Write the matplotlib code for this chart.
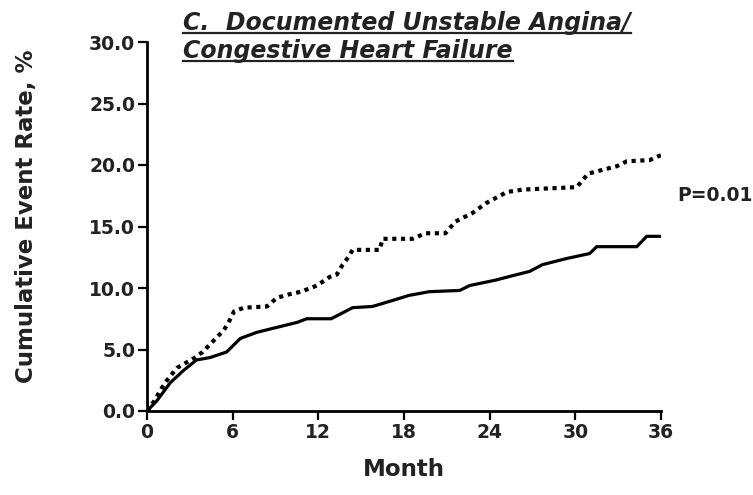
import matplotlib
matplotlib.use("Agg")
import matplotlib.pyplot as plt
from matplotlib.lines import Line2D

# ---- data ----
months_dashed = [0, 0.5, 1.0, 1.4, 2.1, 2.7, 3.3, 3.9, 4.4, 4.9, 5.4, 5.8, 6.1, 6.8,
                 8.4, 9.1, 10.0, 10.8, 11.9, 12.8, 13.3, 13.7, 14.1, 14.4, 16.3, 16.5,
                 18.6, 19.5, 20.9, 21.6, 22.8, 23.75, 25.2, 26.3, 30.1, 30.9, 32.9,
                 33.6, 35.2, 36.0]
rate_dashed = [0, 0.8, 1.8, 2.5, 3.5, 3.9, 4.3, 4.8, 5.4, 6.0, 6.6, 7.4, 8.1, 8.4,
               8.5, 9.2, 9.5, 9.7, 10.2, 10.9, 11.1, 11.9, 12.5, 13.1, 13.1, 14.0,
               14.0, 14.45, 14.45, 15.4, 16.1, 16.9, 17.8, 18.0, 18.2, 19.3, 19.9,
               20.3, 20.4, 20.8]

months_solid = [0, 0.67, 1.63, 2.56, 3.47, 4.43, 5.58, 6.54, 7.7, 9.1, 10.5, 11.2,
                12.9, 14.4, 15.8, 16.95, 18.36, 19.77, 21.9, 22.6, 24.45, 25.6, 26.8,
                27.7, 29.4, 31.0, 31.5, 34.3, 35.0, 36.0]
rate_solid = [0, 0.8, 2.3, 3.3, 4.15, 4.35, 4.8, 5.9, 6.4, 6.8, 7.2, 7.5,
              7.5, 8.4, 8.5, 8.9, 9.4, 9.7, 9.8, 10.2, 10.65, 11.0, 11.35,
              11.9, 12.4, 12.8, 13.36, 13.36, 14.2, 14.2]

x_ticks = [0, 6, 12, 18, 24, 30, 36]
y_ticks = [0, 5, 10, 15, 20, 25, 30]
title_lines = ["C.  Documented Unstable Angina/", "Congestive Heart Failure"]
p_text = "P=0.01"

W, H = 753, 495
INK = "#222222"
fig = plt.figure(figsize=(W / 100, H / 100), dpi=100)
ax = fig.add_axes([147 / W, 1 - 411 / H, (661 - 147) / W, (411 - 42) / H])

ax.plot(months_solid, rate_solid, color="black", lw=2.3, solid_joinstyle="miter")
ax.plot(months_dashed, rate_dashed, color="black", lw=3.0,
        linestyle=(0, (1.0, 1.1)), dash_capstyle="butt")

ax.set_xlim(0, 36)
ax.set_ylim(0, 30)
ax.set_xticks(x_ticks)
ax.set_xticklabels([str(t) for t in x_ticks])
ax.set_yticks(y_ticks)
ax.set_yticklabels([f"{t:.1f}" for t in y_ticks])

for s in ["top", "right"]:
    ax.spines[s].set_visible(False)
for s in ["left", "bottom"]:
    ax.spines[s].set_linewidth(2.0)
ax.tick_params(axis="both", direction="out", length=6.5, width=1.6,
               labelsize=13.5, pad=2)
for lab in ax.get_xticklabels() + ax.get_yticklabels():
    lab.set_fontweight("bold")
    lab.set_color(INK)

ax.set_xlabel("Month", fontsize=16.5, fontweight="bold", labelpad=12, color=INK)
ax.set_ylabel("Cumulative Event Rate, %", fontsize=16.5, fontweight="bold", color=INK)
ax.yaxis.set_label_coords(-0.212, 0.528)

ax.text(1.031, 0.585, p_text, transform=ax.transAxes, fontsize=13.5,
        fontweight="bold", color=INK, va="center", ha="left")

# title lines, underlined
baselines = [30, 58]
texts = []
for line, b in zip(title_lines, baselines):
    t = fig.text(183 / W, 1 - b / H, line, fontsize=17, fontweight="bold",
                 fontstyle="italic", va="baseline", ha="left", color=INK)
    texts.append((t, b))

fig.canvas.draw()
renderer = fig.canvas.get_renderer()
for t, b in texts:
    bb = t.get_window_extent(renderer)
    yline = 1 - (b + 3) / H
    fig.add_artist(Line2D([bb.x0 / W, bb.x1 / W], [yline, yline],
                          transform=fig.transFigure, color=INK, lw=1.6))

fig.savefig("out.png", dpi=100)
